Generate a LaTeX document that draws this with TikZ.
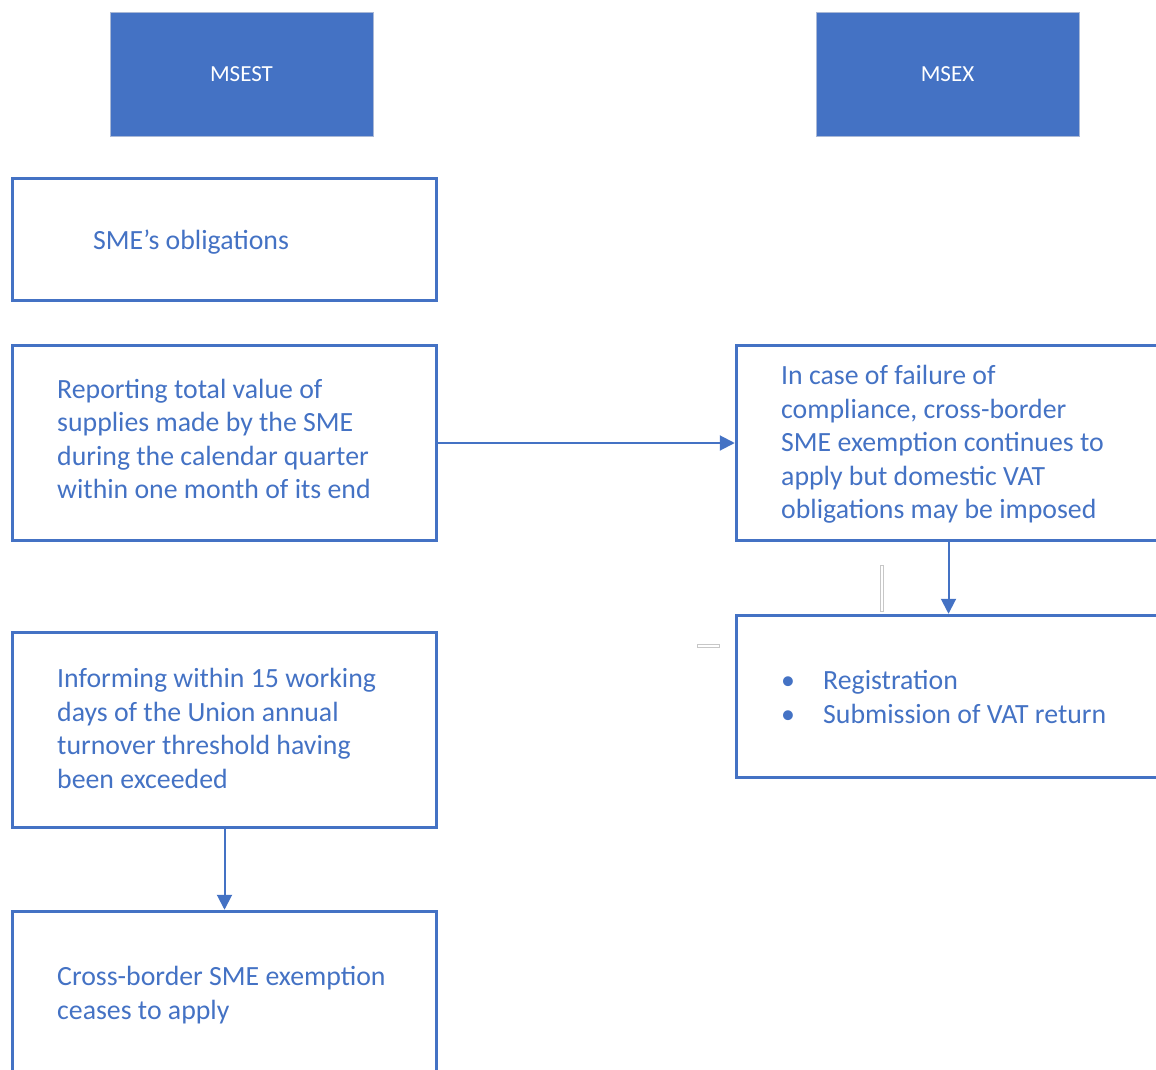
\documentclass[tikz,border=0pt]{standalone}
\usepackage{fontspec}
\setmainfont{Carlito}
\usetikzlibrary{arrows.meta}
\definecolor{acc}{HTML}{4472C4}
\definecolor{hdrline}{HTML}{A9B8D6}
\begin{document}
\begin{tikzpicture}[x=1pt,y=-1pt,
  hdr/.style={fill=acc, draw=hdrline, line width=0.8pt, minimum width=263pt, minimum height=124pt, inner sep=0pt, text=white, font=\fontsize{23}{27}\selectfont},
  box/.style={draw=acc, line width=3.5pt, minimum width=424pt, inner sep=0pt},
  txt/.style={text=acc, inner sep=0pt, align=left, font=\fontsize{27.8}{33.6}\selectfont},
  conn/.style={draw=acc, line width=2pt, -{Triangle[length=15pt,width=15pt]}},
  ghost/.style={draw=black!22, line width=0.8pt}
]
\useasboundingbox (0,0) rectangle (1156,1070);
\clip (0,0) rectangle (1156,1070);

% header boxes
\node[hdr] (msest) at (241.5,74) {MSEST};
\node[hdr] (msex) at (947.5,74) {MSEX};

% left column boxes
\node[box, minimum height=122pt] (obl) at (224.5,239.5) {};
\node[box, minimum height=195pt] (rep) at (224.5,443) {};
\node[box, minimum height=195pt] (inf) at (224.5,730) {};
\node[box, minimum height=195pt] (cb) at (224.5,1009) {};

% right column boxes
\node[box, minimum height=195pt] (r1) at (948.5,443) {};
\node[box, minimum height=162pt] (r2) at (948.5,696.5) {};

% texts
\node[txt, anchor=base west] (toblig) at (93,249) {SME’s obligations};
\node[txt, anchor=north west] (trep) at (57,378.5) {Reporting total value of\\supplies made by the SME\\during the calendar quarter\\within one month of its end};
\node[txt, anchor=north west] (tinf) at (57,668) {Informing within 15 working\\days of the Union annual\\turnover threshold having\\been exceeded};
\node[txt, anchor=north west] (tcb) at (57,966) {Cross-border SME exemption\\ceases to apply};
\node[txt, anchor=north west] (tr1) at (781,365) {In case of failure of\\compliance, cross-border\\SME exemption continues to\\apply but domestic VAT\\obligations may be imposed};
\node[txt, anchor=north west] (tbul) at (781,677) {•\\•};
\node[txt, anchor=north west] (tr2) at (823,670) {Registration\\Submission of VAT return};

% connectors
\draw[conn] (rep.east) -- (r1.west);
\draw[conn] (r1.south) -- (r2.north);
\draw[conn] (inf.south) -- (cb.north);

% faint artefacts
\draw[ghost] (880.5,565) rectangle (883.5,611);
\draw[ghost] (697.5,644) rectangle (719,647);
\end{tikzpicture}
\end{document}
